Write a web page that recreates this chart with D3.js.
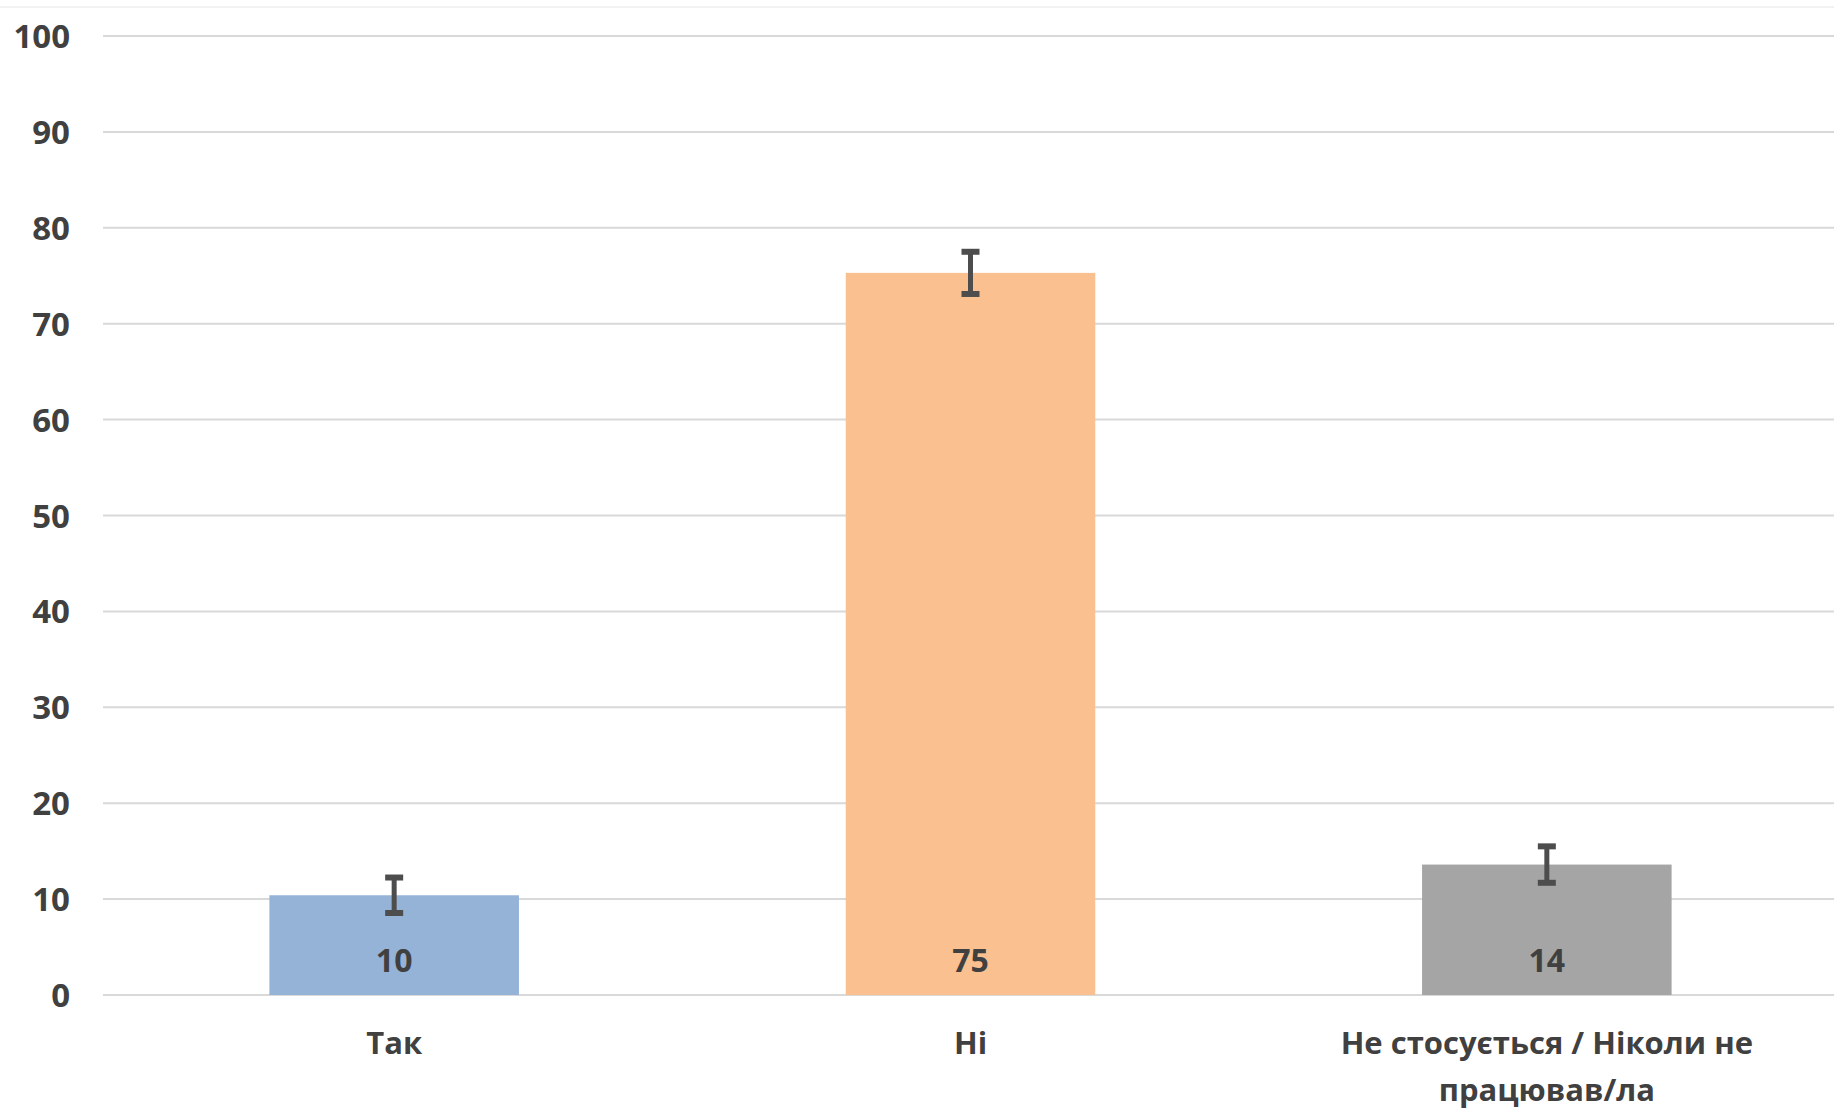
<!DOCTYPE html>
<html><head><meta charset="utf-8">
<script src="https://cdn.jsdelivr.net/npm/d3@7"></script>
<style>body{margin:0;background:#fff}svg{display:block}</style>
</head><body>
<script>
const categories = ["Так", "Ні", "Не стосується / Ніколи не працював/ла"];
const categoryLines = [["Так"], ["Ні"], ["Не стосується / Ніколи не", "працював/ла"]];
const values = [10.4, 75.3, 13.6];
const errors = [1.85, 2.2, 1.9];
const valueLabels = ["10", "75", "14"];
const colors = ["#95b3d7", "#fac090", "#a5a5a5"];
const yTicks = [0,10,20,30,40,50,60,70,80,90,100];

const W = 1834, H = 1109;
const svg = d3.select("body").append("svg").attr("width", W).attr("height", H);
const font = "'Open Sans', sans-serif";
const textColor = "#404040";

const y = d3.scaleLinear().domain([0,100]).range([995, 36]);
const x = d3.scaleBand().domain(categories).range([106, 1835]).paddingInner(0.567).paddingOuter(0.2835);

// faint top border
svg.append("line").attr("x1",0).attr("x2",W).attr("y1",7).attr("y2",7).attr("stroke","#f2f2f2").attr("stroke-width",2);

// gridlines
svg.append("g").selectAll("line").data(yTicks).join("line")
  .attr("x1",103).attr("x2",W).attr("y1",d=>y(d)).attr("y2",d=>y(d))
  .attr("stroke","#d9d9d9").attr("stroke-width",2);

// y axis labels
const yAxis = d3.axisLeft(y).tickValues(yTicks).tickSize(0).tickPadding(0);
const ga = svg.append("g").attr("transform","translate(70,0)").call(yAxis);
ga.select(".domain").remove();
ga.selectAll("text").attr("font-family",font).attr("font-weight",700).attr("font-size",33).attr("fill",textColor).attr("dy","0.35em");

// bars
const data = categories.map((c,i)=>({c, v:values[i], e:errors[i], l:valueLabels[i], col:colors[i], lines:categoryLines[i]}));
svg.append("g").selectAll("rect").data(data).join("rect")
  .attr("x",d=>x(d.c)).attr("width",x.bandwidth())
  .attr("y",d=>y(d.v)).attr("height",d=>y(0)-y(d.v))
  .attr("fill",d=>d.col);

// error bars
const eg = svg.append("g").attr("stroke","#4d4d4d").attr("stroke-width",5);
data.forEach(d=>{
  const cx = x(d.c)+x.bandwidth()/2;
  eg.append("line").attr("x1",cx).attr("x2",cx).attr("y1",y(d.v+d.e)).attr("y2",y(d.v-d.e));
  [d.v+d.e, d.v-d.e].forEach(v=>{
    eg.append("line").attr("x1",cx-9).attr("x2",cx+9).attr("y1",y(v)).attr("y2",y(v)).attr("stroke-width",6);
  });
});

// value labels
svg.append("g").selectAll("text").data(data).join("text")
  .attr("x",d=>x(d.c)+x.bandwidth()/2).attr("y",y(0)-34)
  .attr("dy","0.35em").attr("text-anchor","middle")
  .attr("font-family",font).attr("font-weight",700).attr("font-size",32).attr("fill",textColor)
  .text(d=>d.l);

// category labels
const cg = svg.append("g");
data.forEach(d=>{
  const t = cg.append("text").attr("text-anchor","middle")
    .attr("font-family",font).attr("font-weight",700).attr("font-size",31).attr("fill",textColor);
  d.lines.forEach((ln,j)=>{
    t.append("tspan").attr("x",x(d.c)+x.bandwidth()/2).attr("y",1043+j*47).attr("dy","0.35em").text(ln);
  });
});
</script>
</body></html>
